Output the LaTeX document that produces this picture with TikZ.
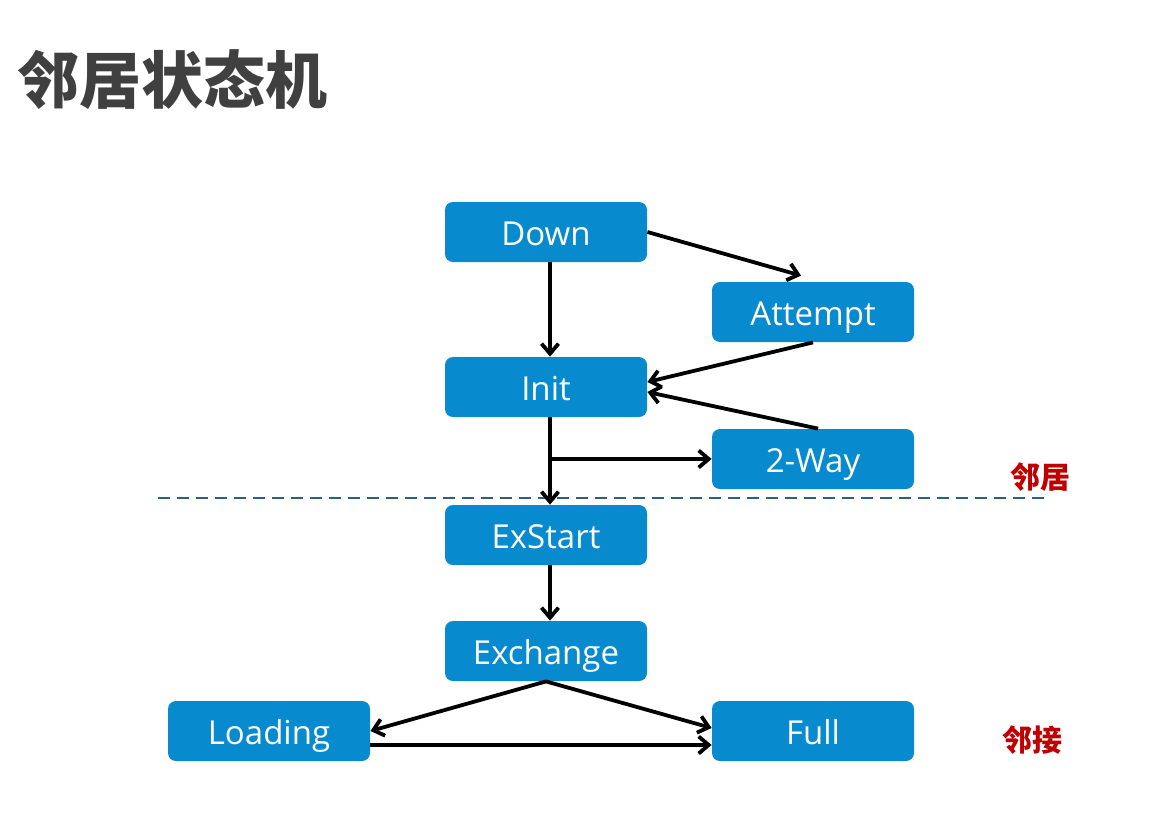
\documentclass[tikz,border=0pt]{standalone}
\usepackage{xcolor}
\usepackage{fontspec}
\usepackage{tikz}
\usetikzlibrary{calc,arrows.meta,positioning}
\setmainfont{Open Sans}
\newfontfamily\cjk{Noto Sans CJK SC}
\definecolor{stateColor}{RGB}{8, 138, 206}
\definecolor{titleColor}{RGB}{64, 64, 64}
\definecolor{markColor}{RGB}{192, 0, 0}
\definecolor{lineColor}{RGB}{47, 95, 128}
\tikzset{
    statebox/.style={draw=none, fill=stateColor, rounded corners=4pt,
        minimum width=101pt, minimum height=30pt, inner sep=0pt,
        text height=15pt, text depth=1.2pt,
        text=white, font=\fontsize{16.5}{19}\selectfont},
    flow/.style={-{Straight Barb[length=5pt,width=8.5pt]}, line width=1.9pt, black},
    marktext/.style={text=markColor, font=\cjk\bfseries\fontsize{15}{17}\selectfont}
}

\begin{document}
\begin{tikzpicture}[x=0.5pt,y=-0.5pt]
            \useasboundingbox (0,0) rectangle (1170,813);

            % Title text
            \node[anchor=west, inner sep=0pt, text=titleColor, font=\cjk\bfseries\fontsize{31}{35}\selectfont] (title) at (17,80) {邻居状态机};

            % States
            \node[statebox] (down) at (546,232) {Down};
            \node[statebox] (attempt) at (813,312) {Attempt};
            \node[statebox] (init) at (546,387) {Init};
            \node[statebox] (twoway) at (813,459) {2-Way};
            \node[statebox] (exstart) at (546,535) {ExStart};
            \node[statebox] (exchange) at (546,651) {Exchange};
            \node[statebox] (loading) at (269,731) {Loading};
            \node[statebox] (full) at (813,731) {Full};

            % Dashed border line
            \coordinate (lineleft) at (158,498);
            \coordinate (lineright) at (1045,498);
            \draw[lineColor, line width=1.1pt, dash pattern=on 6pt off 3.5pt] (lineleft) -- (lineright);

            % Side labels
            \node[marktext] (neighbor) at (1040,477) {邻居};
            \node[marktext] (adjacent) at (1032,740) {邻接};

            % Transitions
            \draw[flow] (down.east) -- ([shift={(-12,-6)}]attempt.north);
            \draw[flow] ([xshift=2pt]down.south) -- ([xshift=2pt]init.north);
            \draw[flow] (attempt.south) -- ([yshift=2.5pt]init.east);
            \draw[flow] ([xshift=2.5pt]twoway.north) -- ([yshift=-2.5pt]init.east);
            \draw[flow] ([xshift=2pt]init.south) -- ([xshift=2pt]exstart.north);
            \draw[flow] ([xshift=2pt]init.south |- twoway.west) -- (twoway.west);
            \draw[flow] ([xshift=2pt]exstart.south) -- ([xshift=2pt]exchange.north);
            \draw[flow] (exchange.south) -- (loading.east);
            \draw[flow] (exchange.south) -- ([yshift=1.5pt]full.west);
            \draw[flow] ([yshift=-7pt]loading.east) -- ([yshift=-7pt]full.west);
        \end{tikzpicture}
\end{document}
